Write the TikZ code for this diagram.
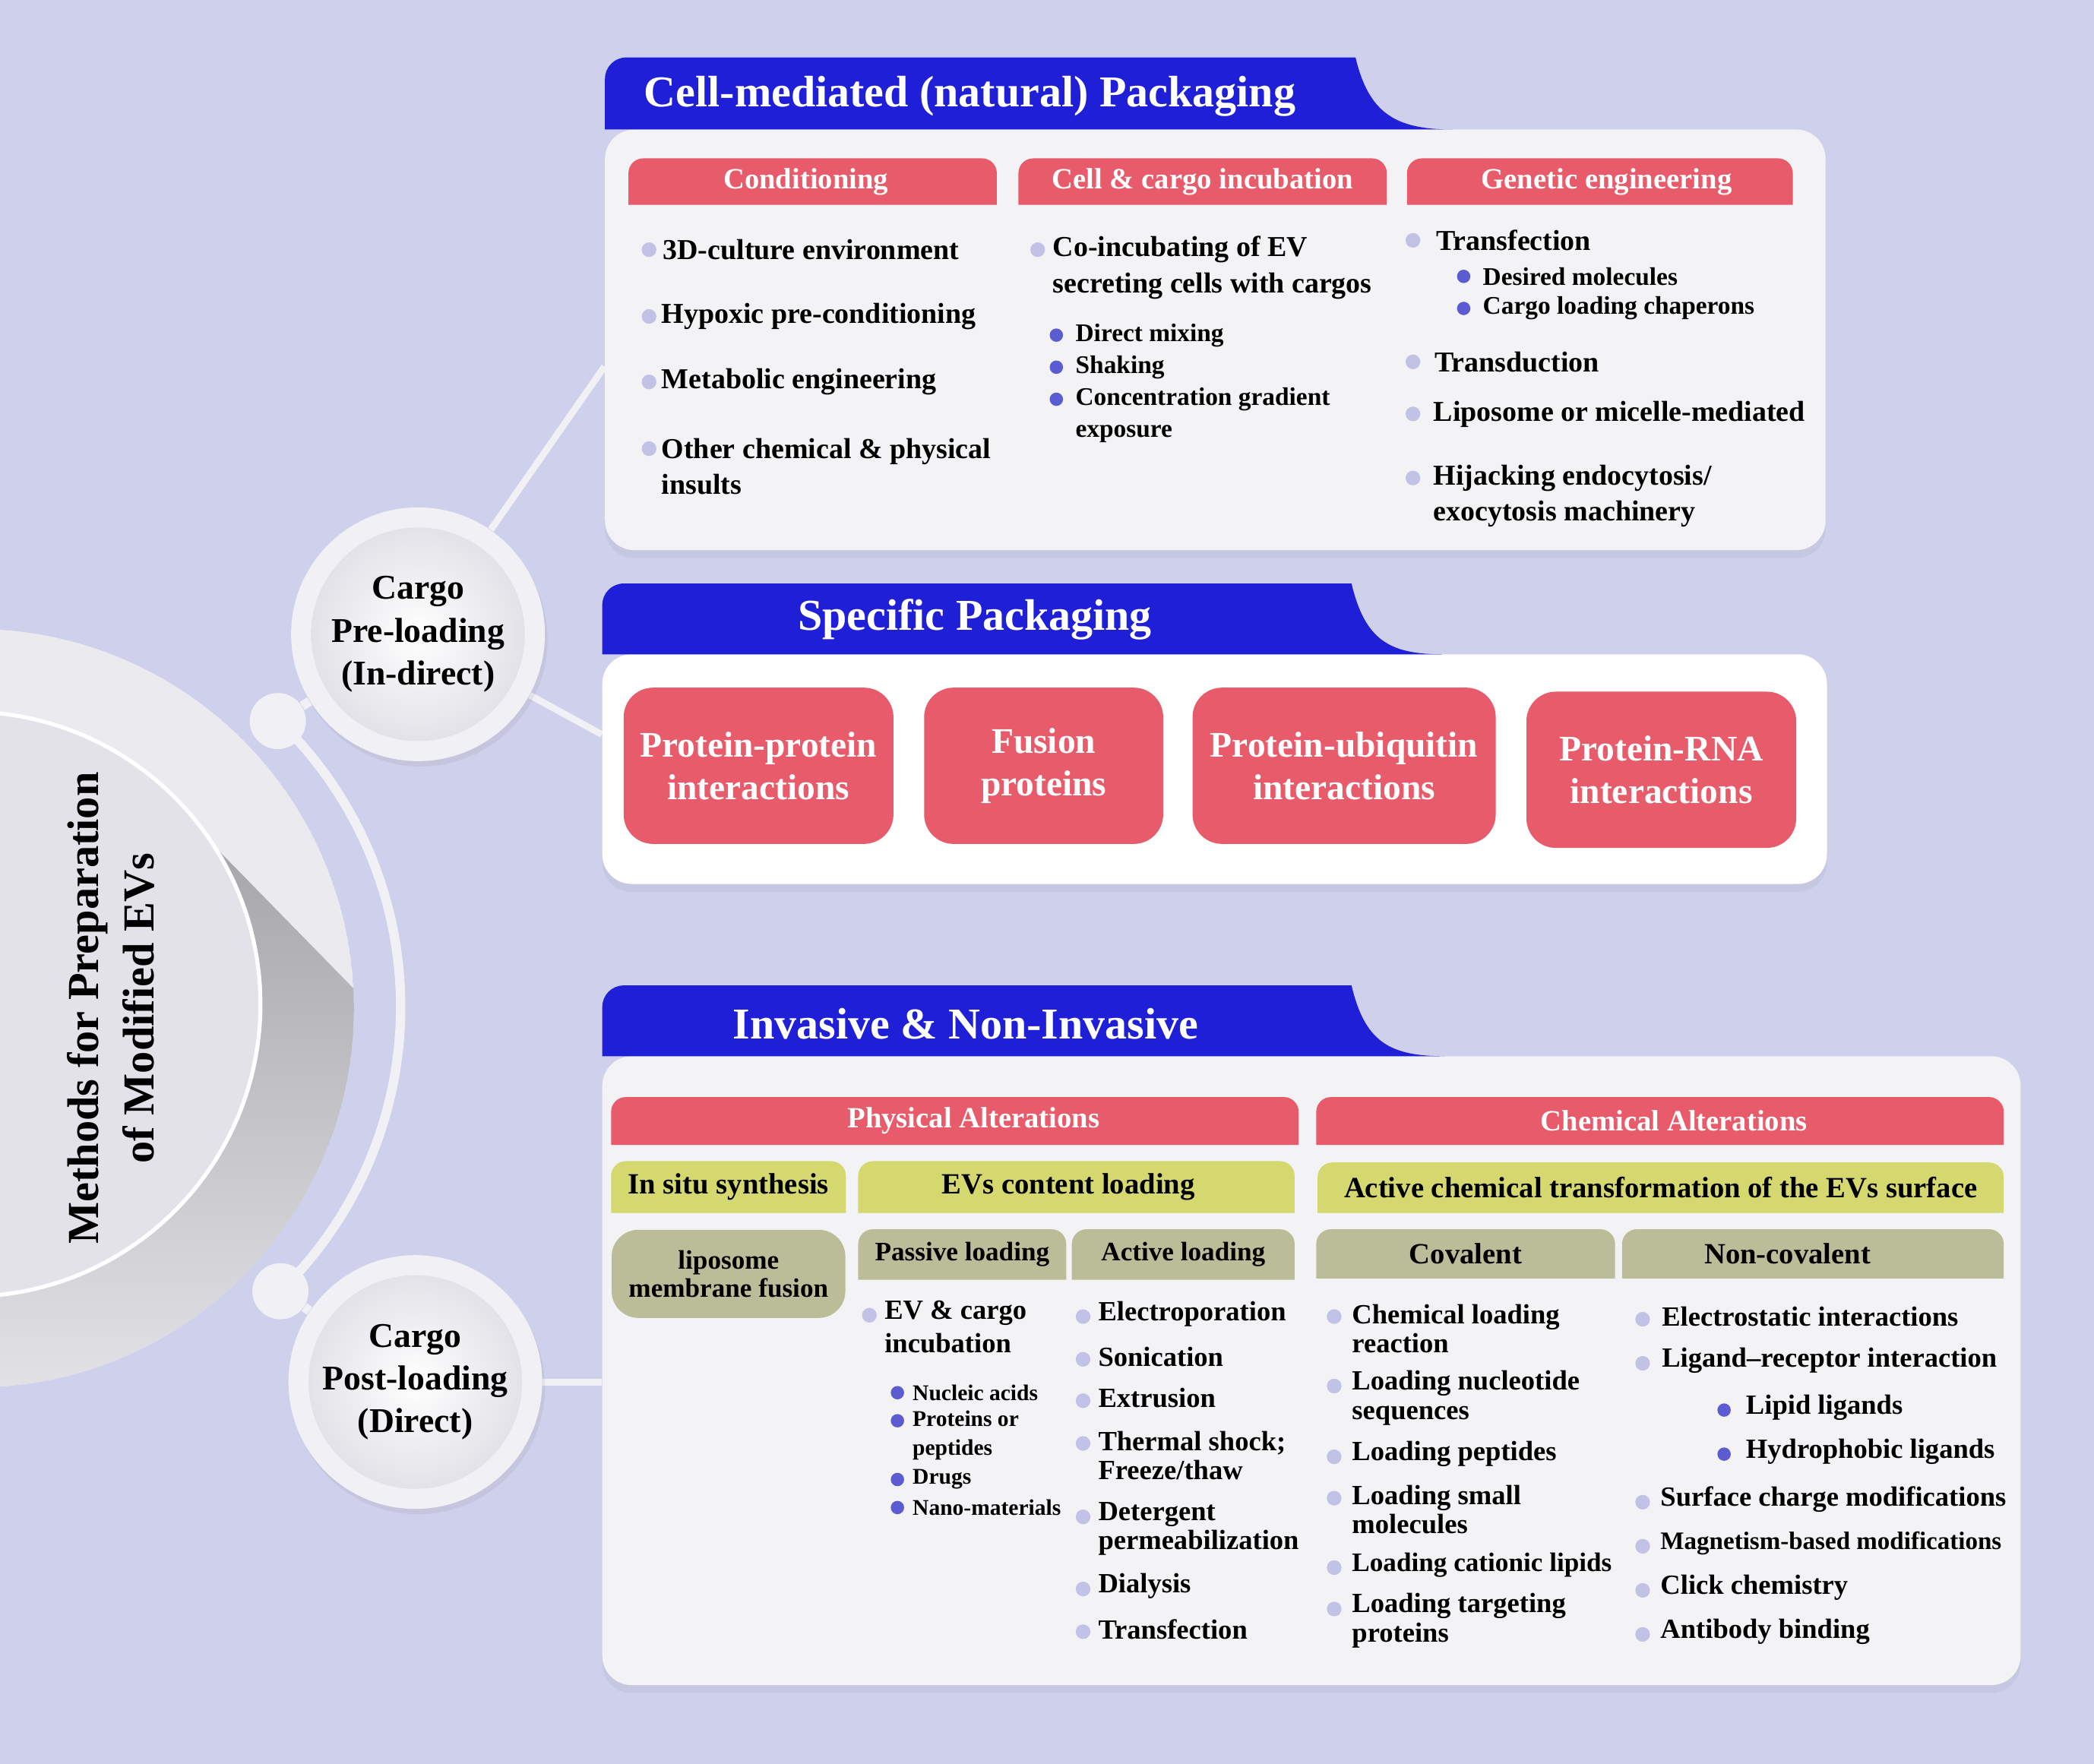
\documentclass[tikz,border=0pt]{standalone}
\usepackage{fontspec}
\setmainfont{Liberation Serif}
\usetikzlibrary{shadows,calc}
\pgfdeclarelayer{back}
\pgfdeclarelayer{mid}
\pgfsetlayers{back,mid,main}
\definecolor{bgc}{HTML}{CFD0EB}
\definecolor{bluec}{HTML}{1F1FD8}
\definecolor{redc}{HTML}{E85B6A}
\definecolor{ylwc}{HTML}{D4D86F}
\definecolor{olvc}{HTML}{BBBD98}
\definecolor{pnlc}{HTML}{F3F3F6}
\definecolor{lbulc}{HTML}{C2C2E6}
\definecolor{dbulc}{HTML}{5B5BD2}
\definecolor{ringc}{HTML}{F1F1F5}
\definecolor{outc}{HTML}{EAEAEF}
\definecolor{innc}{HTML}{E2E2E8}
\definecolor{shdc}{HTML}{A4A4A9}
\newcommand{\tophdfill}[2]{\begin{pgfonlayer}{mid}\fill[#2] (#1.south west) [rounded corners=5.5pt] -- (#1.north west) -- (#1.north east) [sharp corners] -- (#1.south east) -- cycle;\end{pgfonlayer}}
\begin{document}
\begin{tikzpicture}[x=0.5pt,y=-0.5pt,
  panel/.style={rectangle, rounded corners=11pt, inner sep=0pt, drop shadow={opacity=0.10, shadow xshift=0pt, shadow yshift=-3pt}},
  ttl/.style={text=white, font=\bfseries\fontsize{16.5}{19}\selectfont, inner sep=0pt},
  hd/.style={rectangle, inner sep=0pt, text=white, font=\bfseries\fontsize{11}{13}\selectfont},
  gh/.style={rectangle, inner sep=0pt, text=black, align=center, font=\bfseries\fontsize{11}{13}\selectfont},
  gs/.style={rectangle, inner sep=0pt, text=black, align=center, font=\bfseries\fontsize{10}{10.5}\selectfont},
  itm/.style={anchor=west, inner sep=0pt, align=left, font=\bfseries\fontsize{10.8}{13.5}\selectfont},
  subitm/.style={anchor=west, inner sep=0pt, align=left, font=\bfseries\fontsize{9.5}{12}\selectfont},
  bitm/.style={anchor=west, inner sep=0pt, align=left, font=\bfseries\fontsize{10.4}{11}\selectfont},
  bsub/.style={anchor=west, inner sep=0pt, align=left, font=\bfseries\fontsize{8.4}{10.75}\selectfont},
  lb/.style={circle, fill=lbulc, minimum size=5.5pt, inner sep=0pt},
  db/.style={circle, fill=dbulc, minimum size=5pt, inner sep=0pt},
  spbox/.style={rectangle, rounded corners=11pt, fill=redc, text=white, align=center, inner sep=0pt, minimum height=58.5pt, font=\bfseries\fontsize{13.5}{16}\selectfont},
  cargo/.style={circle, minimum size=95pt, inner sep=0pt, align=center, font=\bfseries\fontsize{13}{16}\selectfont},
  conn/.style={draw=ringc, line width=2.5pt},
  ring/.style={draw=ringc, line width=3.5pt},
  dotc/.style={circle, fill=ringc, minimum size=21pt, inner sep=0pt}]
\useasboundingbox (0,0) rectangle (1568,1321);
\clip (0,0) rectangle (1568,1321);

% ---------- left hub ----------
\node[rotate=90, align=center, inner sep=0pt, font=\bfseries\fontsize{16.6}{21}\selectfont] (main) at (83,755) {Methods for Preparation\\of Modified EVs};
\node[cargo] (pre) at (313,475) {Cargo\\Pre-loading\\(In-direct)};
\node[cargo] (post) at (311,1035) {Cargo\\Post-loading\\(Direct)};

\begin{pgfonlayer}{back}
\fill[bgc] (0,0) rectangle (1568,1321);
\begin{scope}
\clip (-19,755) circle[radius=284];
\fill[outc] (-19,755) circle[radius=284];
\shade[shading angle=-45, top color=shdc, bottom color=outc] (150,623) -- (330,807) -- (330,1100) -- (-60,1100) -- (-60,700) -- cycle;
\end{scope}
\fill[innc, draw=white, line width=1.5pt] (-24,752) circle[radius=219];
\draw[ring] (3,754) ++(-46:297) arc[start angle=-46, end angle=46, radius=297];
\node[dotc] (d1) at (208,540) {};
\node[dotc] (d2) at (210,967) {};
\draw[ring] (d1) -- (pre);
\draw[ring] (d2) -- (post);
\end{pgfonlayer}

\begin{pgfonlayer}{mid}
\fill[ringc, drop shadow={opacity=0.12, shadow xshift=1pt, shadow yshift=-2pt}] (pre.center) circle[radius=95];
\shade[inner color=white, outer color=innc] (pre.center) circle[radius=80];
\fill[ringc, drop shadow={opacity=0.12, shadow xshift=1pt, shadow yshift=-2pt}] (post.center) circle[radius=95];
\shade[inner color=white, outer color=innc] (post.center) circle[radius=80];

% panels
\node[panel, fill=pnlc, minimum width=457pt, minimum height=157.5pt] (cellp) at (910,254.5) {};
\node[panel, fill=white, minimum width=458.5pt, minimum height=86pt] (specp) at (909.5,576) {};
\node[panel, fill=pnlc, minimum width=531pt, minimum height=235.5pt] (invp) at (982,1026.5) {};
% tabs
\fill[bluec] (453,97) [rounded corners=8pt] -- (453,43) [sharp corners] -- (1015,43) .. controls (1025,85) and (1045,97) .. (1088,97) -- cycle;
\fill[bluec] (451,490) [rounded corners=8pt] -- (451,437) [sharp corners] -- (1012,437) .. controls (1022,479) and (1040,490) .. (1080,490) -- cycle;
\fill[bluec] (451,791) [rounded corners=8pt] -- (451,738) [sharp corners] -- (1012,738) .. controls (1022,780) and (1040,791) .. (1082,791) -- cycle;
\end{pgfonlayer}

\begin{pgfonlayer}{back}
\draw[conn] (pre) -- ($(cellp.west)+(0,20)$);
\draw[conn] (pre) -- ($(specp.west)+(0,-26)$);
\draw[conn] (post) -- (post -| invp.west);
\end{pgfonlayer}

% ---------- titles ----------
\node[ttl, anchor=west] (t1) at (482,72) {Cell-mediated (natural) Packaging};
\node[ttl] (t2) at (730,464) {Specific Packaging};
\node[ttl] (t3) at (723,767) {Invasive \& Non-Invasive};

% ---------- cell-mediated panel ----------
\node[hd, minimum width=137.5pt, minimum height=17pt] (h1) at (608.5,136) {Conditioning\hspace*{5pt}}; \tophdfill{h1}{redc}
\node[hd, minimum width=137.5pt, minimum height=17pt] (h2) at (900.5,136) {Cell \& cargo incubation}; \tophdfill{h2}{redc}
\node[hd, minimum width=144pt, minimum height=17pt] (h3) at (1198,136) {\hspace*{5pt}Genetic engineering}; \tophdfill{h3}{redc}

\node[lb] (b11) at (486,187) {}; \node[itm] (i11) at (496,187) {3D-culture environment};
\node[lb] (b12) at (486,237) {}; \node[itm] (i12) at (495,237) {Hypoxic pre-conditioning};
\node[lb] (b13) at (486,286) {}; \node[itm] (i13) at (495,286) {Metabolic engineering};
\node[lb] (b14) at (486,336) {}; \node[itm] (i14) at (495,349.5) {Other chemical \& physical\\insults};

\node[lb] (b21) at (777,187) {}; \node[itm] (i21) at (788,200.5) {Co-incubating of EV\\secreting cells with cargos};
\node[db] (s21) at (791,251) {}; \node[subitm] (u21) at (805,251) {Direct mixing};
\node[db] (s22) at (791,275) {}; \node[subitm] (u22) at (805,275) {Shaking};
\node[db] (s23) at (791,299) {}; \node[subitm] (u23) at (805,311) {Concentration gradient\\exposure};

\node[lb] (b31) at (1058,180) {}; \node[itm] (i31) at (1075,180) {Transfection};
\node[db] (s31) at (1096,207) {}; \node[subitm] (u31) at (1110,207) {Desired molecules};
\node[db] (s32) at (1096,231) {}; \node[subitm] (u32) at (1110,231) {Cargo loading chaperons};
\node[lb] (b32) at (1058,271) {}; \node[itm] (i32) at (1074,271) {Transduction};
\node[lb] (b33) at (1058,310) {}; \node[itm] (i33) at (1073,310) {Liposome or micelle-mediated};
\node[lb] (b34) at (1058,358) {}; \node[itm] (i34) at (1073,371.5) {Hijacking endocytosis/\\exocytosis machinery};

% ---------- specific panel ----------
\node[spbox, minimum width=101pt] (pp) at (568,573.5) {Protein-protein\\interactions};
\node[spbox, minimum width=89.5pt] (fp) at (781.5,573.5) {Fusion\\proteins};
\node[spbox, minimum width=113.5pt] (pu) at (1006.5,573.5) {Protein-ubiquitin\\interactions};
\node[spbox, minimum width=101pt] (pr) at (1244,576.5) {Protein-RNA\\interactions};

% ---------- invasive panel ----------
\node[hd, minimum width=257pt, minimum height=17.5pt] (ph) at (715,839.5) {\hspace*{14pt}Physical Alterations}; \tophdfill{ph}{redc}
\node[hd, minimum width=257pt, minimum height=17.5pt] (ch) at (1243,839.5) {\hspace*{10.5pt}Chemical Alterations}; \tophdfill{ch}{redc}

\node[gh, minimum width=87.5pt, minimum height=19pt] (ins) at (545.5,889) {In situ synthesis}; \tophdfill{ins}{ylwc}
\node[gh, minimum width=163pt, minimum height=19pt] (evl) at (806,889) {\raisebox{-2.5pt}{EVs content loading}\hspace*{6pt}}; \tophdfill{evl}{ylwc}
\node[gh, minimum width=256.5pt, minimum height=18.5pt] (act) at (1243.5,889.5) {Active chemical transformation of the EVs surface}; \tophdfill{act}{ylwc}

\node[gs, fill=olvc, rounded corners=10pt, minimum width=87.5pt, minimum height=33pt] (lip) at (545.5,954) {liposome\\membrane fusion};
\node[gs, minimum width=77.5pt, minimum height=18.5pt] (pas) at (720.5,939.5) {Passive loading}; \tophdfill{pas}{olvc}
\node[gs, minimum width=83pt, minimum height=18.5pt] (acl) at (886,939.5) {Active loading}; \tophdfill{acl}{olvc}
\node[gh, minimum width=111.5pt, minimum height=18pt] (cov) at (1097.5,939) {Covalent}; \tophdfill{cov}{olvc}
\node[gh, minimum width=142.5pt, minimum height=18pt] (ncv) at (1357.5,939) {Non-covalent\hspace*{19pt}}; \tophdfill{ncv}{olvc}

% passive
\node[lb] (p1) at (651,985) {}; \node[bitm, font=\bfseries\fontsize{10.4}{12.5}\selectfont] (pt1) at (662,993.5) {EV \& cargo\\incubation};
\node[db] (q1) at (672,1043) {}; \node[bsub] (qt1) at (683,1043) {Nucleic acids};
\node[db] (q2) at (672,1064) {}; \node[bsub] (qt2) at (683,1075) {Proteins or\\peptides};
\node[db] (q3) at (672,1108) {}; \node[bsub] (qt3) at (683,1108) {Drugs};
\node[db] (q4) at (672,1129) {}; \node[bsub] (qt4) at (683,1129) {Nano-materials};

% active
\node[lb] (a1) at (811,986) {}; \node[bitm] (at1) at (822,984) {Electroporation};
\node[lb] (a2) at (811,1018) {}; \node[bitm] (at2) at (822,1016) {Sonication};
\node[lb] (a3) at (811,1049) {}; \node[bitm] (at3) at (822,1047) {Extrusion};
\node[lb] (a4) at (811,1081) {}; \node[bitm] (at4) at (822,1090) {Thermal shock;\\Freeze/thaw};
\node[lb] (a5) at (811,1136) {}; \node[bitm] (at5) at (822,1145) {Detergent\\permeabilization};
\node[lb] (a6) at (811,1190) {}; \node[bitm] (at6) at (822,1188) {Dialysis};
\node[lb] (a7) at (811,1222) {}; \node[bitm] (at7) at (822,1220) {Transfection};

% covalent
\node[lb] (c1) at (999,986) {}; \node[bitm] (ct1) at (1012,995) {Chemical loading\\reaction};
\node[lb] (c2) at (999,1038) {}; \node[bitm] (ct2) at (1012,1047) {Loading nucleotide\\sequences};
\node[lb] (c3) at (999,1091) {}; \node[bitm] (ct3) at (1012,1089) {Loading peptides};
\node[lb] (c4) at (999,1122) {}; \node[bitm] (ct4) at (1012,1130.5) {Loading small\\molecules};
\node[lb] (c5) at (999,1174) {}; \node[bitm, font=\bfseries\fontsize{10}{11}\selectfont] (ct5) at (1012,1172) {Loading cationic lipids};
\node[lb] (c6) at (999,1205) {}; \node[bitm] (ct6) at (1012,1213.5) {Loading targeting\\proteins};

% non-covalent
\node[lb] (n1) at (1230,988) {}; \node[bitm] (nt1) at (1244,986) {Electrostatic interactions};
\node[lb] (n2) at (1230,1021) {}; \node[bitm] (nt2) at (1244,1019) {Ligand–receptor interaction};
\node[db] (m1) at (1291,1056) {}; \node[bitm] (mt1) at (1307,1054) {Lipid ligands};
\node[db] (m2) at (1291,1089) {}; \node[bitm] (mt2) at (1307,1087) {Hydrophobic ligands};
\node[lb] (n3) at (1230,1125) {}; \node[bitm] (nt3) at (1243,1123) {Surface charge modifications};
\node[lb] (n4) at (1230,1158) {}; \node[bitm, font=\bfseries\fontsize{9.4}{11}\selectfont] (nt4) at (1243,1156) {Magnetism-based modifications};
\node[lb] (n5) at (1230,1191) {}; \node[bitm] (nt5) at (1243,1189) {Click chemistry};
\node[lb] (n6) at (1230,1224) {}; \node[bitm] (nt6) at (1243,1222) {Antibody binding};
\end{tikzpicture}
\end{document}
